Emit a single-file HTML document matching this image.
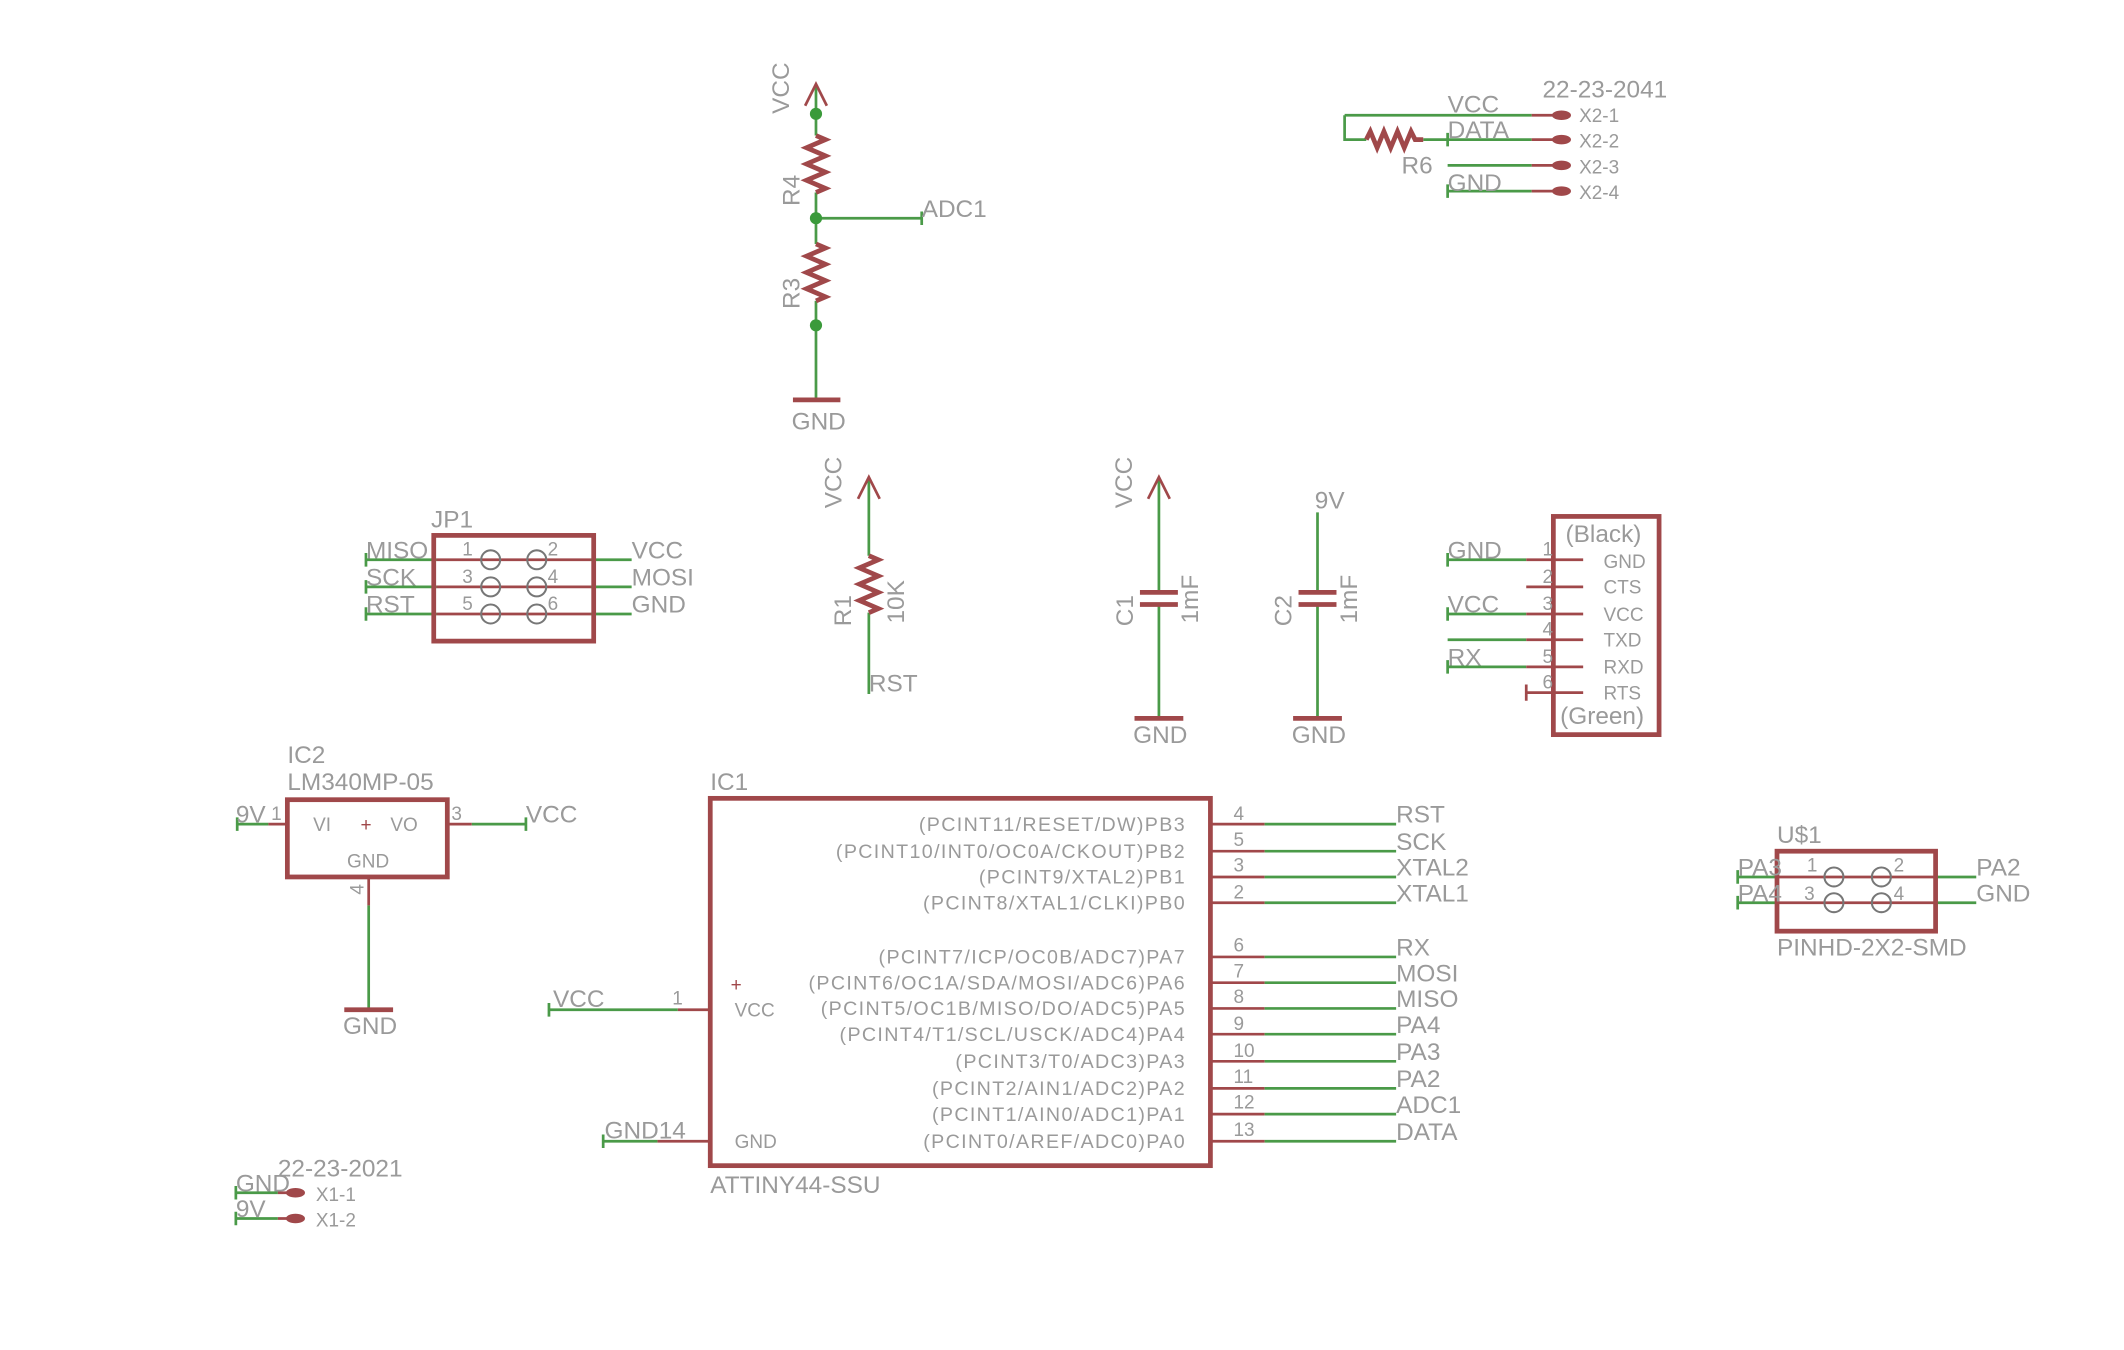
<!DOCTYPE html>
<html><head><meta charset="utf-8"><style>
html,body{margin:0;padding:0;background:#fff;}
svg{display:block;}
text{font-family:"Liberation Sans",sans-serif;fill:#9a9a9a;}
.l{font-size:18px;}
.s{font-size:14px;}
.p{font-size:14.5px;letter-spacing:1px;}
.g{stroke:#4a9a48;stroke-width:2;fill:none;}
.r{stroke:#a0484a;stroke-width:2;fill:none;}
.b{stroke:#a0484a;stroke-width:3.5;fill:none;}
.end{text-anchor:end;}
.mid{text-anchor:middle;}
</style></head><body>
<svg width="2124" height="1350" viewBox="0 0 1567 996" preserveAspectRatio="none" xmlns="http://www.w3.org/2000/svg">
<path class="g" d="M602,62 V100 M602,142 V180 M602,222 V295 M602,161 H680 M680,156 V166"/>
<path class="r" d="M594,78 L602,62 L610,78"/>
<path class="b" d="M602,100 l7,3 l-14,6 l14,6 l-14,6 l14,6 l-14,6 l14,6 l-7,3"/>
<path class="b" d="M602,180 l7,3 l-14,6 l14,6 l-14,6 l14,6 l-14,6 l14,6 l-7,3"/>
<path class="b" d="M585,295 H620"/>
<circle cx="602" cy="84" r="4.5" fill="#3a9a3a"/><circle cx="602" cy="161" r="4.5" fill="#3a9a3a"/><circle cx="602" cy="240" r="4.5" fill="#3a9a3a"/>
<text class="l" transform="translate(582,84) rotate(-90)">VCC</text>
<text class="l" transform="translate(590,152) rotate(-90)">R4</text>
<text class="l" transform="translate(590,228) rotate(-90)">R3</text>
<text class="l" x="680" y="160">ADC1</text>
<text class="l mid" x="604" y="317">GND</text>

<path class="g" d="M992,85 H1130 M992,85 V103 H1008 M1050,103 H1130 M1068,122 H1130 M1068,141 H1130 M1068,98 V108 M1068,136 V146"/>
<path class="b" d="M1008,103 l3,-6 l5,12 l5,-12 l5,12 l5,-12 l5,12 l5,-12 l3,6 H1050"/>
<path class="r" d="M1130,85 H1150 M1130,103 H1150 M1130,122 H1150 M1130,141 H1150"/>
<g fill="#a0484a"><ellipse cx="1152" cy="85" rx="7" ry="3.5"/><ellipse cx="1152" cy="103" rx="7" ry="3.5"/><ellipse cx="1152" cy="122" rx="7" ry="3.5"/><ellipse cx="1152" cy="141" rx="7" ry="3.5"/></g>
<text class="l" x="1138" y="72">22-23-2041</text>
<text class="s" x="1165" y="90">X2-1</text><text class="s" x="1165" y="109">X2-2</text><text class="s" x="1165" y="128">X2-3</text><text class="s" x="1165" y="147">X2-4</text>
<text class="l" x="1068" y="83">VCC</text><text class="l" x="1068" y="102">DATA</text><text class="l" x="1034" y="128">R6</text><text class="l" x="1068" y="141">GND</text>

<path class="g" d="M270,413 H322 M270,433 H322 M270,453 H322 M436,413 H466 M436,433 H466 M436,453 H466 M270,408 V418 M270,428 V438 M270,448 V458"/>
<path class="r" d="M322,413 H436 M322,433 H436 M322,453 H436"/>
<rect x="320" y="395" width="118" height="78" class="b"/>
<g fill="none" stroke="#777" stroke-width="1.5"><circle cx="362" cy="413" r="7"/><circle cx="396" cy="413" r="7"/><circle cx="362" cy="433" r="7"/><circle cx="396" cy="433" r="7"/><circle cx="362" cy="453" r="7"/><circle cx="396" cy="453" r="7"/></g>
<text class="l" x="318" y="389">JP1</text>
<text class="l" x="270" y="412">MISO</text><text class="l" x="270" y="432">SCK</text><text class="l" x="270" y="452">RST</text>
<text class="l" x="466" y="412">VCC</text><text class="l" x="466" y="432">MOSI</text><text class="l" x="466" y="452">GND</text>
<text class="s" x="341" y="410">1</text><text class="s" x="341" y="430">3</text><text class="s" x="341" y="450">5</text>
<text class="s" x="404" y="410">2</text><text class="s" x="404" y="430">4</text><text class="s" x="404" y="450">6</text>

<path class="g" d="M641,352 V410 M641,452 V512"/>
<path class="r" d="M633,368 L641,352 L649,368"/>
<path class="b" d="M641,410 l7,3 l-14,6 l14,6 l-14,6 l14,6 l-14,6 l14,6 l-7,3"/>
<text class="l" transform="translate(621,375) rotate(-90)">VCC</text>
<text class="l" transform="translate(628,462) rotate(-90)">R1</text>
<text class="l" transform="translate(667,460) rotate(-90)">10K</text>
<text class="l" x="641" y="510">RST</text>

<path class="g" d="M855,352 V437 M855,446 V530"/>
<path class="r" d="M847,368 L855,352 L863,368"/>
<path class="b" d="M841,437 H869 M841,446 H869 M837,530 H873"/>
<text class="l" transform="translate(835,375) rotate(-90)">VCC</text>
<text class="l" transform="translate(836,462) rotate(-90)">C1</text>
<text class="l" transform="translate(884,460) rotate(-90)">1mF</text>
<text class="l mid" x="856" y="548">GND</text>
<path class="g" d="M972,378 V437 M972,446 V530"/>
<path class="b" d="M958,437 H986 M958,446 H986 M954,530 H990"/>
<text class="l" x="970" y="375">9V</text>
<text class="l" transform="translate(953,462) rotate(-90)">C2</text>
<text class="l" transform="translate(1001,460) rotate(-90)">1mF</text>
<text class="l mid" x="973" y="548">GND</text>

<path class="g" d="M1068,413 H1126 M1068,453 H1126 M1068,472 H1126 M1068,492 H1126 M1068,408 V418 M1068,448 V458 M1068,487 V497"/>
<path class="r" d="M1126,413 H1168 M1126,433 H1168 M1126,453 H1168 M1126,472 H1168 M1126,492 H1168 M1126,511 H1168 M1126,505 V517"/>
<rect x="1146" y="381" width="78" height="161" class="b"/>
<text class="l" x="1155" y="400">(Black)</text><text class="l" x="1151" y="534">(Green)</text>
<text class="s" x="1183" y="419">GND</text><text class="s" x="1183" y="438">CTS</text><text class="s" x="1183" y="458">VCC</text><text class="s" x="1183" y="477">TXD</text><text class="s" x="1183" y="497">RXD</text><text class="s" x="1183" y="516">RTS</text>
<text class="s" x="1138" y="410">1</text><text class="s" x="1138" y="430">2</text><text class="s" x="1138" y="450">3</text><text class="s" x="1138" y="469">4</text><text class="s" x="1138" y="489">5</text><text class="s" x="1138" y="508">6</text>
<text class="l" x="1068" y="412">GND</text><text class="l" x="1068" y="452">VCC</text><text class="l" x="1068" y="491">RX</text>

<path class="g" d="M175,608 H198 M348,608 H388 M272,668 V745 M175,603 V613 M388,603 V613"/>
<path class="r" d="M198,608 H212 M330,608 H348 M272,647 V668"/>
<path class="b" d="M254,745 H290"/>
<rect x="212" y="590" width="118" height="57" class="b"/>
<text class="s" x="231" y="613">VI</text><text class="s" x="266" y="613" style="fill:#a0484a">+</text><text class="s" x="288" y="613">VO</text><text class="s" x="256" y="640">GND</text>
<text class="l" x="212" y="563">IC2</text><text class="l" x="212" y="583">LM340MP-05</text>
<text class="l" x="174" y="607">9V</text><text class="s" x="200" y="605">1</text><text class="s" x="333" y="605">3</text><text class="l" x="388" y="607">VCC</text>
<text class="s" transform="translate(268,660) rotate(-90)">4</text>
<text class="l mid" x="273" y="763">GND</text>

<rect x="524" y="589" width="369" height="271" class="b"/>
<path class="r" d="M893,608 H933 M893,628 H933 M893,647 H933 M893,666 H933 M893,706 H933 M893,725 H933 M893,744 H933 M893,763 H933 M893,783 H933 M893,803 H933 M893,822 H933 M893,842 H933 M500,745 H524 M485,842 H524"/>
<path class="g" d="M933,608 H1030 M933,628 H1030 M933,647 H1030 M933,666 H1030 M933,706 H1030 M933,725 H1030 M933,744 H1030 M933,763 H1030 M933,783 H1030 M933,803 H1030 M933,822 H1030 M933,842 H1030 M405,745 H500 M445,842 H485 M405,740 V750 M445,837 V847"/>
<text class="s" x="910" y="605">4</text><text class="s" x="910" y="624">5</text><text class="s" x="910" y="643">3</text><text class="s" x="910" y="663">2</text>
<text class="s" x="910" y="702">6</text><text class="s" x="910" y="721">7</text><text class="s" x="910" y="740">8</text><text class="s" x="910" y="760">9</text>
<text class="s" x="910" y="780">10</text><text class="s" x="910" y="799">11</text><text class="s" x="910" y="818">12</text><text class="s" x="910" y="838">13</text>
<text class="l" x="1030" y="607">RST</text><text class="l" x="1030" y="627">SCK</text><text class="l" x="1030" y="646">XTAL2</text><text class="l" x="1030" y="665">XTAL1</text>
<text class="l" x="1030" y="705">RX</text><text class="l" x="1030" y="724">MOSI</text><text class="l" x="1030" y="743">MISO</text><text class="l" x="1030" y="762">PA4</text>
<text class="l" x="1030" y="782">PA3</text><text class="l" x="1030" y="802">PA2</text><text class="l" x="1030" y="821">ADC1</text><text class="l" x="1030" y="841">DATA</text>
<text class="p end" x="875" y="613">(PCINT11/RESET/DW)PB3</text>
<text class="p end" x="875" y="633">(PCINT10/INT0/OC0A/CKOUT)PB2</text>
<text class="p end" x="875" y="652">(PCINT9/XTAL2)PB1</text>
<text class="p end" x="875" y="671">(PCINT8/XTAL1/CLKI)PB0</text>
<text class="p end" x="875" y="711">(PCINT7/ICP/OC0B/ADC7)PA7</text>
<text class="p end" x="875" y="730">(PCINT6/OC1A/SDA/MOSI/ADC6)PA6</text>
<text class="p end" x="875" y="749">(PCINT5/OC1B/MISO/DO/ADC5)PA5</text>
<text class="p end" x="875" y="768">(PCINT4/T1/SCL/USCK/ADC4)PA4</text>
<text class="p end" x="875" y="788">(PCINT3/T0/ADC3)PA3</text>
<text class="p end" x="875" y="808">(PCINT2/AIN1/ADC2)PA2</text>
<text class="p end" x="875" y="827">(PCINT1/AIN0/ADC1)PA1</text>
<text class="p end" x="875" y="847">(PCINT0/AREF/ADC0)PA0</text>
<text class="s" x="539" y="731" style="fill:#a0484a">+</text>
<text class="s" x="542" y="750">VCC</text><text class="s" x="542" y="847">GND</text>
<text class="l" x="408" y="743">VCC</text><text class="s" x="496" y="741">1</text>
<text class="l" x="446" y="840">GND14</text>
<text class="l" x="524" y="583">IC1</text><text class="l" x="524" y="880">ATTINY44-SSU</text>

<path class="g" d="M1282,647 H1311 M1282,666 H1311 M1428,647 H1458 M1428,666 H1458 M1282,642 V652 M1282,661 V671"/>
<path class="r" d="M1311,647 H1428 M1311,666 H1428"/>
<rect x="1311" y="628" width="117" height="59" class="b"/>
<g fill="none" stroke="#777" stroke-width="1.5"><circle cx="1353" cy="647" r="7"/><circle cx="1388" cy="647" r="7"/><circle cx="1353" cy="666" r="7"/><circle cx="1388" cy="666" r="7"/></g>
<text class="l" x="1311" y="622">U$1</text><text class="l" x="1311" y="705">PINHD-2X2-SMD</text>
<text class="l" x="1282" y="646">PA3</text><text class="l" x="1282" y="665">PA4</text><text class="l" x="1458" y="646">PA2</text><text class="l" x="1458" y="665">GND</text>
<text class="s" x="1333" y="643">1</text><text class="s" x="1397" y="643">2</text><text class="s" x="1331" y="664">3</text><text class="s" x="1397" y="664">4</text>

<path class="g" d="M174,880 H205 M174,899 H205 M174,875 V885 M174,894 V904"/>
<path class="r" d="M205,880 H215 M205,899 H215"/>
<g fill="#a0484a"><ellipse cx="218" cy="880" rx="7" ry="3.5"/><ellipse cx="218" cy="899" rx="7" ry="3.5"/></g>
<text class="l" x="205" y="868">22-23-2021</text>
<text class="l" x="174" y="879">GND</text><text class="l" x="174" y="898">9V</text>
<text class="s" x="233" y="886">X1-1</text><text class="s" x="233" y="905">X1-2</text>
</svg>
</body></html>
